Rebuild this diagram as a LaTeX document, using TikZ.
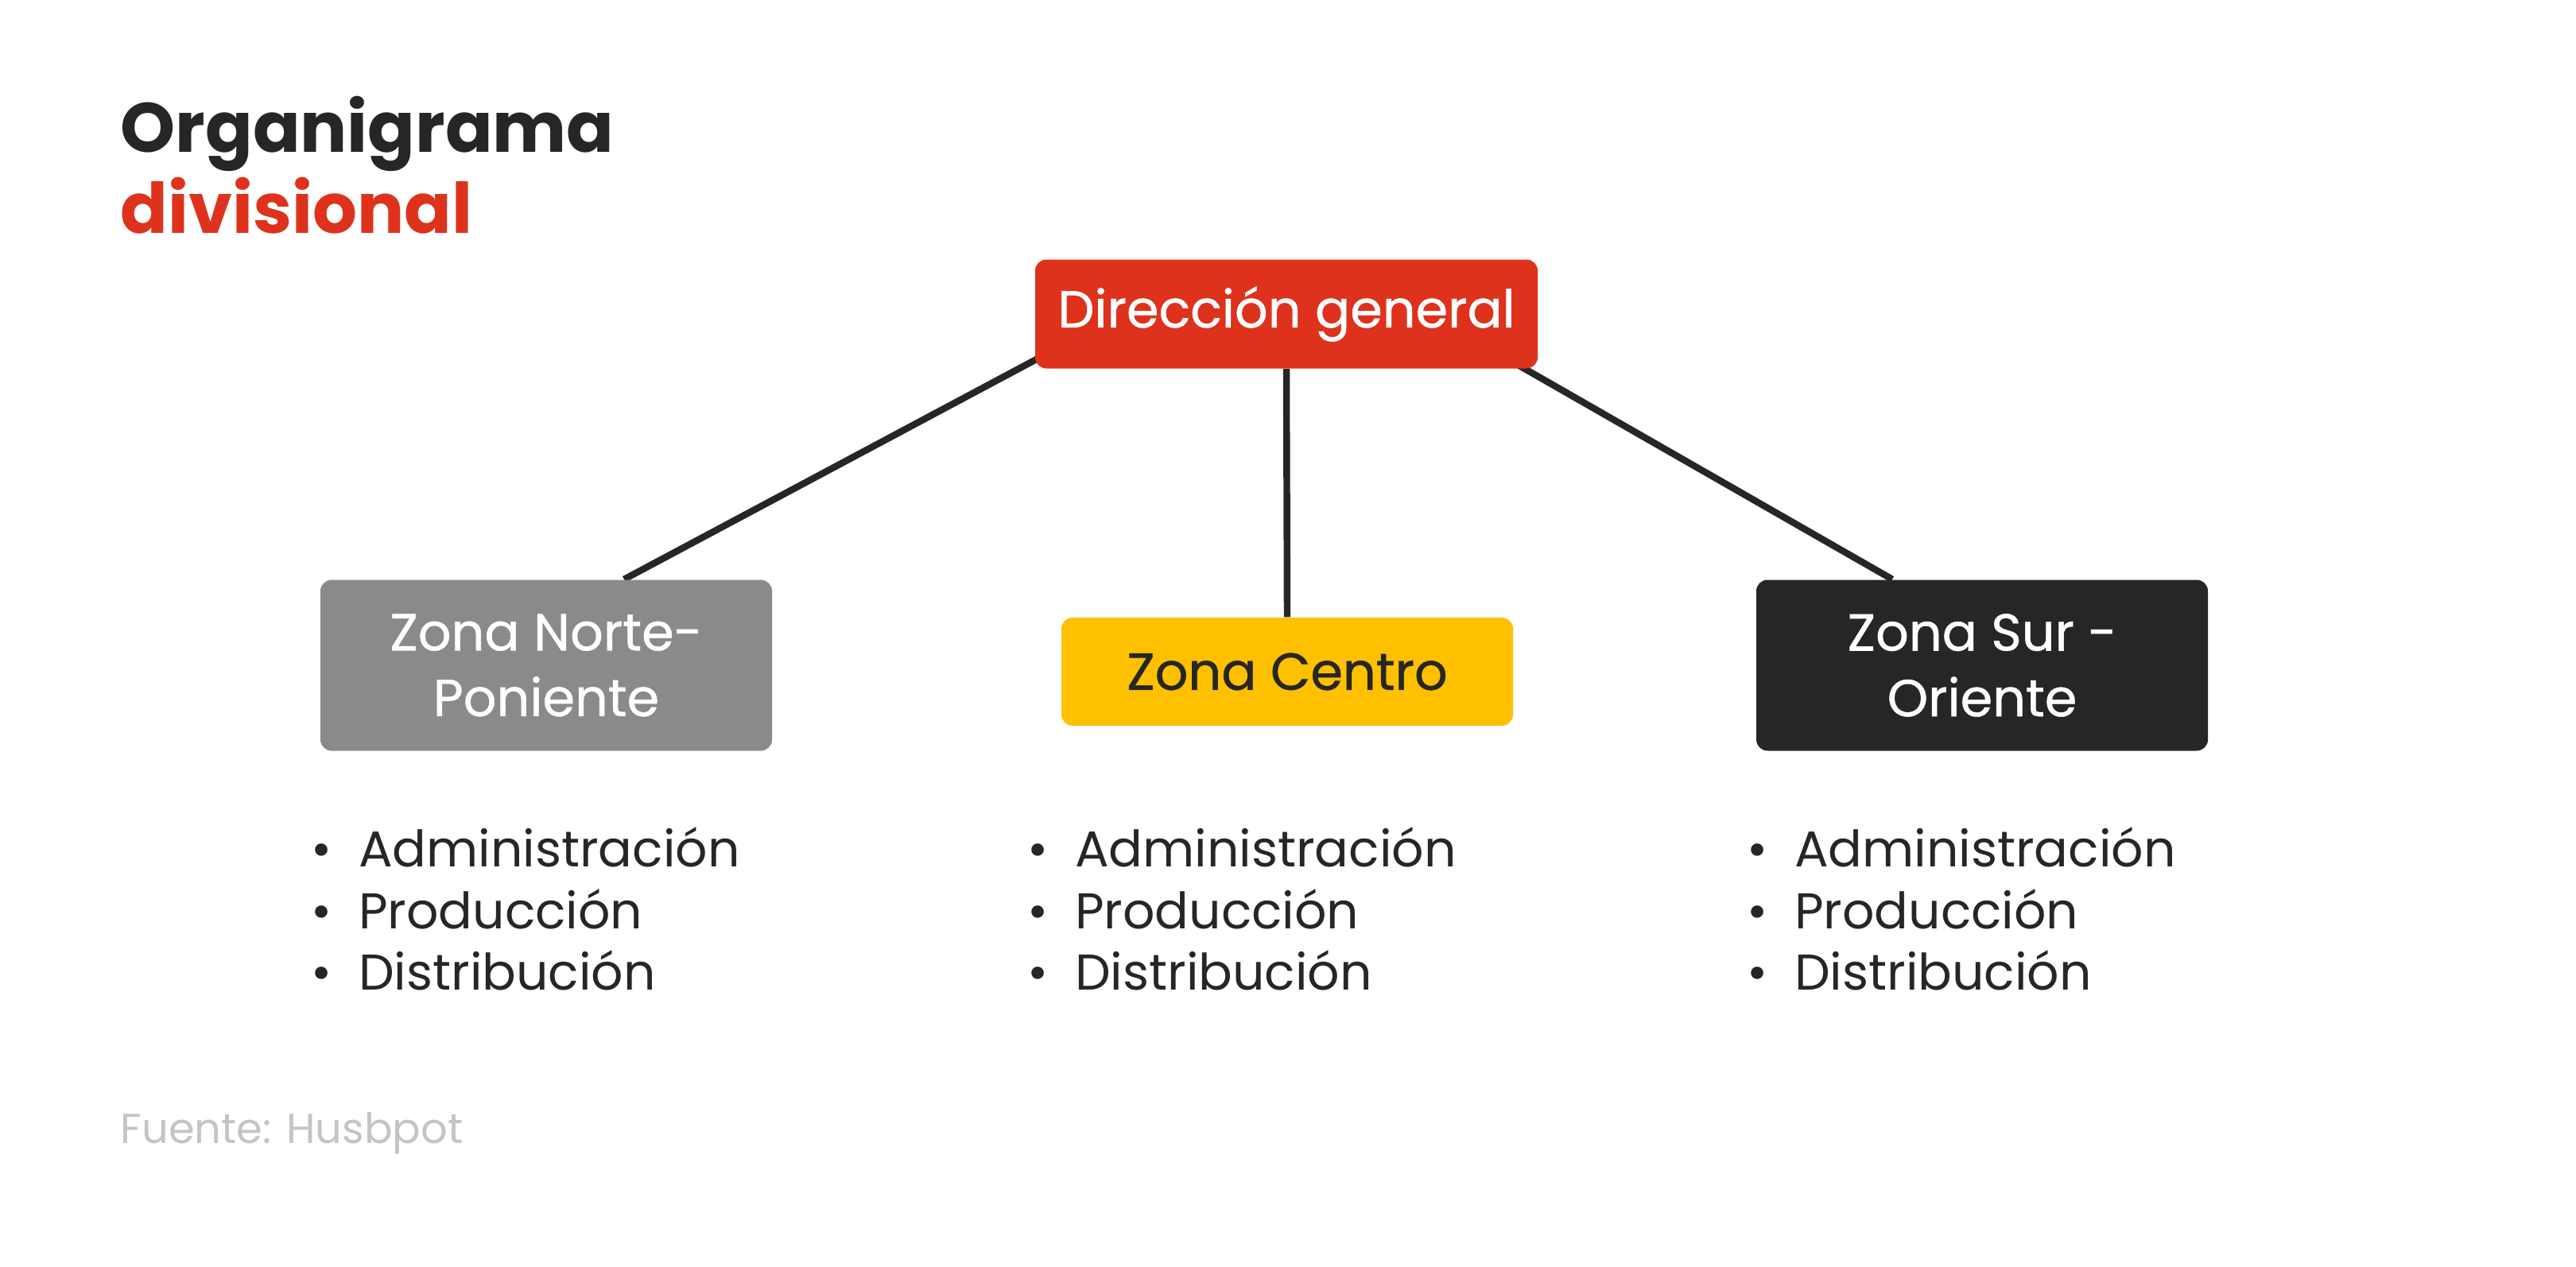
\documentclass[tikz,border=0pt]{standalone}
\usepackage{fontspec}
\setmainfont{Poppins}
\newfontfamily\medfont[FakeBold=0.8]{Poppins}
\usetikzlibrary{positioning,calc,backgrounds}
\definecolor{orgred}{HTML}{DE321D}
\definecolor{orgyellow}{HTML}{FFC000}
\definecolor{orggray}{HTML}{8A8A8A}
\definecolor{orgdark}{HTML}{262626}
\definecolor{orgnote}{HTML}{C4C4C4}
\tikzset{
  zbox/.style={rounded corners=4pt, align=center, inner sep=4pt,
    minimum width=56.8mm, font=\medfont\fontsize{18.6}{23.5}\selectfont},
  topb/.style={zbox, fill=orgred, text=white, minimum width=63.2mm, minimum height=13.7mm},
  grayb/.style={zbox, fill=orggray, text=white, minimum height=21.5mm},
  yelb/.style={zbox, fill=orgyellow, text=orgdark, minimum height=13.6mm},
  darkb/.style={zbox, fill=orgdark, text=white, minimum height=21.5mm},
  link/.style={line width=2.4pt, draw=orgdark},
  lista/.style={anchor=north west, align=left, inner sep=0pt, text=orgdark,
    font=\fontsize{18}{22}\selectfont},
  ttl/.style={anchor=base west, align=left, inner sep=0pt,
    font=\fontsize{25}{29}\selectfont\bfseries},
}
\newcommand{\itm}[1]{\makebox[0.95em][l]{\textbullet}#1}

\begin{document}
\begin{tikzpicture}
  \useasboundingbox (0,0) rectangle (32.4,-15.93);
  % title
  \node[ttl] (titulo) at (1.51,-2.93)
    {\textcolor{orgdark}{Organigrama}\\\textcolor{orgred}{divisional}};
  % boxes
  \node[topb] (dir) at (16.18,-3.95) {Dirección general};
  \node[grayb] (norte) at (6.87,-8.37) {Zona Norte-\\Poniente};
  \node[yelb] (centro) at (16.19,-8.45) {Zona Centro};
  \node[darkb] (sur) at (24.93,-8.37) {Zona Sur -\\Oriente};
  \begin{scope}[on background layer]
    \draw[link] ($(dir.south west)+(0.3,0.27)$) -- ($(norte.north)+(0.98,0)$);
    \draw[link] (dir.south) -- (centro.north);
    \draw[link] ($(dir.south east)+(-0.34,0.1)$) -- ($(sur.north)+(-1.13,0)$);
  \end{scope}
  % divisions
  \node[lista] (lnorte) at ($(norte.south west)+(-0.12,-0.95)$)
    {\itm{Administración}\\\itm{Producción}\\\itm{Distribución}};
  \node[lista] (lcentro) at ($(centro.south west |- lnorte.north)+(-0.43,0)$)
    {\itm{Administración}\\\itm{Producción}\\\itm{Distribución}};
  \node[lista] (lsur) at ($(sur.south west)+(-0.12,-0.95)$)
    {\itm{Administración}\\\itm{Producción}\\\itm{Distribución}};
  \node[anchor=west, inner sep=0pt, text=orgnote, font=\fontsize{15}{18}\selectfont]
    (fuente) at (1.51,-14.26) {Fuente: Husbpot};
\end{tikzpicture}
\end{document}
